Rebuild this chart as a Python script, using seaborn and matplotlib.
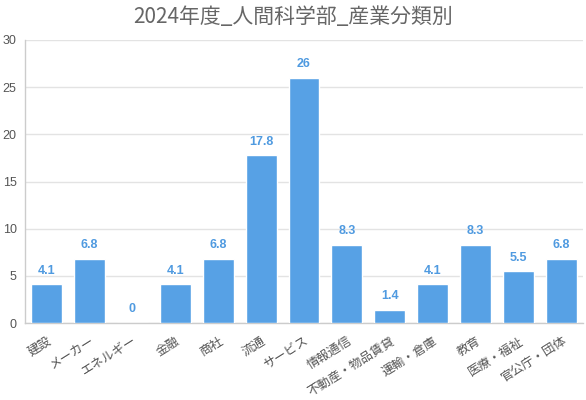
import matplotlib
matplotlib.use("Agg")
import matplotlib.pyplot as plt
import seaborn as sns
import pandas as pd

# data
categories = ["建設", "メーカー", "エネルギー", "金融", "商社", "流通", "サービス",
              "情報通信", "不動産・物品賃貸", "運輸・倉庫", "教育", "医療・福祉", "官公庁・団体"]
values = [4.1, 6.8, 0, 4.1, 6.8, 17.8, 26, 8.3, 1.4, 4.1, 8.3, 5.5, 6.8]
yticks = [0, 5, 10, 15, 20, 25, 30]

df = pd.DataFrame({"category": categories, "value": values})

sns.set_style("white")
plt.rcParams["font.family"] = ["Liberation Sans", "Noto Sans CJK JP", "DejaVu Sans"]

bar_color = "#57a1e5"
fig = plt.figure(figsize=(5.86, 4.0), dpi=100)
ax = fig.add_axes([25 / 586, 77 / 400, 558 / 586, 283 / 400])

sns.barplot(data=df, x="category", y="value", color=bar_color, width=0.72,
            saturation=1, ax=ax, zorder=3)

ax.set_ylim(0, 30)
ax.set_yticks(yticks)
ax.yaxis.grid(True, color="#e3e3e3", linewidth=1, zorder=0)
ax.set_xlabel("")
ax.set_ylabel("")

for s in ["top", "right"]:
    ax.spines[s].set_visible(False)
for s in ["left", "bottom"]:
    ax.spines[s].set_color("#cccccc")
    ax.spines[s].set_linewidth(1)

ax.tick_params(axis="y", colors="#555555", labelsize=9, length=4, width=1, pad=2)
ax.tick_params(axis="y", color="#cccccc")
ax.tick_params(axis="x", colors="#555555", labelsize=9, length=0, pad=8)
plt.setp(ax.get_xticklabels(), rotation=32, ha="right", rotation_mode="anchor",
         family=["Noto Sans CJK JP", "DejaVu Sans"])

# value labels above bars
for i, v in enumerate(values):
    ax.text(i, v + 0.8, f"{v:g}", ha="center", va="bottom", color="#4f9ae0",
            fontsize=9, fontweight="bold", family=["Liberation Sans", "DejaVu Sans"])

fig.suptitle("2024年度_人間科学部_産業分類別", y=0.985, fontsize=15, color="#666666",
             family=["Noto Sans CJK JP", "DejaVu Sans"])

fig.savefig("out.png", dpi=100)
